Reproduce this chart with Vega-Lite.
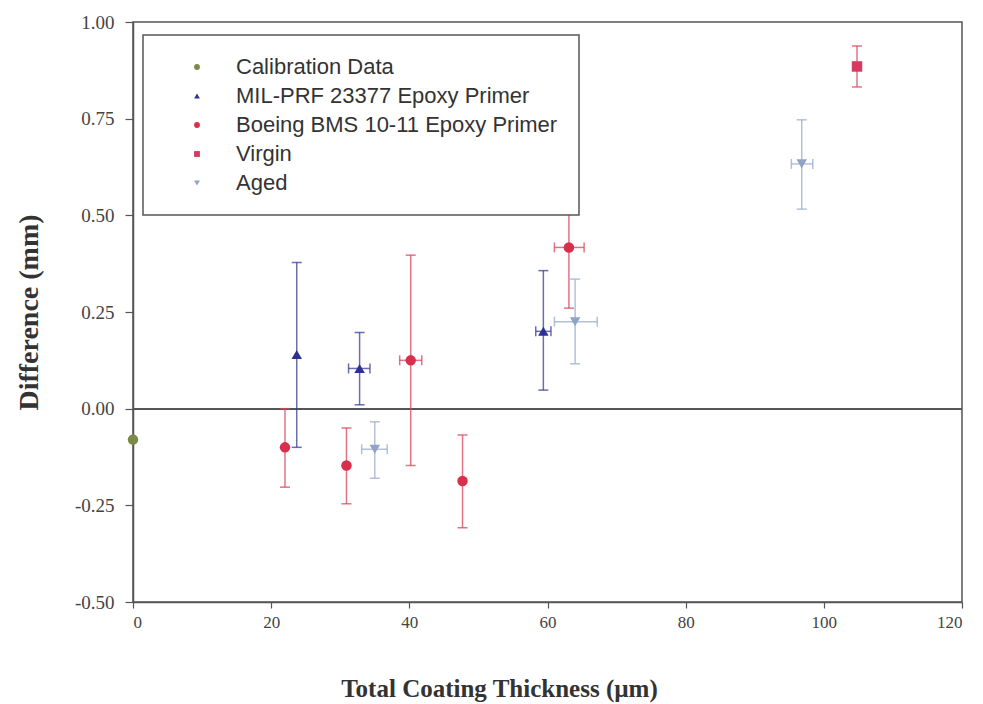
{
  "$schema": "https://vega.github.io/schema/vega-lite/v6.json",
  "width": 829,
  "height": 580,
  "autosize": {"type": "none"},
  "padding": {"left": 133, "top": 22, "right": 21, "bottom": 102},
  "background": "white",
  "config": {
    "view": {"stroke": "#555", "strokeWidth": 1.5},
    "axis": {
      "grid": false,
      "domainColor": "#555",
      "domainWidth": 1.5,
      "tickColor": "#555",
      "tickWidth": 1.2,
      "labelFont": "Liberation Serif",
      "labelColor": "#444",
      "titleFont": "Liberation Serif",
      "titleFontWeight": "bold",
      "titleColor": "#333"
    },
    "legend": {
      "fillColor": "white",
      "strokeColor": "#555",
      "strokeWidth": 1.5,
      "padding": 21,
      "symbolOffset": 22,
      "labelFont": "Liberation Sans",
      "labelFontSize": 22,
      "labelColor": "#333",
      "rowPadding": 7,
      "symbolSize": 34,
      "labelOffset": 28,
      "labelLimit": 500
    }
  },
  "data": {
    "values": [
      {"series": "Calibration Data", "x": 0, "y": -0.08},
      {"series": "MIL-PRF 23377 Epoxy Primer", "x": 23.7, "y": 0.14, "ylo": -0.1, "yhi": 0.378},
      {"series": "MIL-PRF 23377 Epoxy Primer", "x": 32.8, "y": 0.104, "ylo": 0.01, "yhi": 0.197, "xlo": 31.2, "xhi": 34.3},
      {"series": "MIL-PRF 23377 Epoxy Primer", "x": 59.4, "y": 0.2, "ylo": 0.048, "yhi": 0.357, "xlo": 58.3, "xhi": 60.5},
      {"series": "Boeing BMS 10-11 Epoxy Primer", "x": 22.0, "y": -0.1, "ylo": -0.203, "yhi": 0.0},
      {"series": "Boeing BMS 10-11 Epoxy Primer", "x": 30.9, "y": -0.147, "ylo": -0.246, "yhi": -0.05},
      {"series": "Boeing BMS 10-11 Epoxy Primer", "x": 40.2, "y": 0.125, "ylo": -0.147, "yhi": 0.397, "xlo": 38.6, "xhi": 41.8},
      {"series": "Boeing BMS 10-11 Epoxy Primer", "x": 47.7, "y": -0.187, "ylo": -0.308, "yhi": -0.068},
      {"series": "Boeing BMS 10-11 Epoxy Primer", "x": 63.1, "y": 0.417, "ylo": 0.26, "yhi": 0.56, "xlo": 61.0, "xhi": 65.3},
      {"series": "Virgin", "x": 104.8, "y": 0.885, "ylo": 0.832, "yhi": 0.938},
      {"series": "Aged", "x": 35.0, "y": -0.105, "ylo": -0.18, "yhi": -0.034, "xlo": 33.1, "xhi": 36.8},
      {"series": "Aged", "x": 64.0, "y": 0.225, "ylo": 0.116, "yhi": 0.335, "xlo": 61.0, "xhi": 67.2},
      {"series": "Aged", "x": 96.8, "y": 0.633, "ylo": 0.516, "yhi": 0.747, "xlo": 95.3, "xhi": 98.4}
    ]
  },
  "encoding": {
    "x": {
      "field": "x",
      "type": "quantitative",
      "scale": {"domain": [0, 120], "nice": false, "zero": false},
      "axis": {
        "values": [0, 20, 40, 60, 80, 100, 120],
        "title": "Total Coating Thickness (µm)",
        "titleFontSize": 25,
        "titlePadding": 46,
        "titleX": 366,
        "labelFontSize": 17,
        "labelPadding": 6,
        "tickSize": 6
      }
    },
    "y": {
      "field": "y",
      "type": "quantitative",
      "scale": {"domain": [-0.5, 1.0], "nice": false, "zero": false},
      "axis": {
        "values": [-0.5, -0.25, 0, 0.25, 0.5, 0.75, 1.0],
        "format": ".2f",
        "labelExpr": "replace(datum.label, '−', '-')",
        "title": "Difference (mm)",
        "titleFontSize": 28,
        "titleX": -104,
        "titleBaseline": "middle",
        "labelFontSize": 19,
        "labelPadding": 11,
        "tickSize": 8
      }
    }
  },
  "resolve": {
    "scale": {"color": "independent", "shape": "independent"},
    "legend": {"color": "independent", "shape": "independent"}
  },
  "layer": [
    {
      "mark": {"type": "rule", "color": "#555", "strokeWidth": 1.5},
      "encoding": {"y": {"datum": 0}, "x": null}
    },
    {
      "transform": [{"filter": "isValid(datum.ylo)"}],
      "mark": {"type": "rule", "strokeWidth": 1.5, "opacity": 0.75},
      "encoding": {
        "y": {"field": "ylo", "type": "quantitative"},
        "y2": {"field": "yhi"},
        "color": {"field": "series", "type": "nominal", "legend": null,
          "scale": {"domain": ["Calibration Data", "MIL-PRF 23377 Epoxy Primer", "Boeing BMS 10-11 Epoxy Primer", "Virgin", "Aged"],
                    "range": ["#7b8a45", "#3a3c98", "#d8445c", "#d8445c", "#98abcc"]}}
      }
    },
    {
      "transform": [{"filter": "isValid(datum.ylo)"}],
      "mark": {"type": "tick", "orient": "horizontal", "size": 10, "thickness": 1.5, "opacity": 0.75},
      "encoding": {
        "y": {"field": "ylo", "type": "quantitative"},
        "color": {"field": "series", "type": "nominal", "legend": null,
          "scale": {"domain": ["Calibration Data", "MIL-PRF 23377 Epoxy Primer", "Boeing BMS 10-11 Epoxy Primer", "Virgin", "Aged"],
                    "range": ["#7b8a45", "#3a3c98", "#d8445c", "#d8445c", "#98abcc"]}}
      }
    },
    {
      "transform": [{"filter": "isValid(datum.yhi)"}],
      "mark": {"type": "tick", "orient": "horizontal", "size": 10, "thickness": 1.5, "opacity": 0.75},
      "encoding": {
        "y": {"field": "yhi", "type": "quantitative"},
        "color": {"field": "series", "type": "nominal", "legend": null,
          "scale": {"domain": ["Calibration Data", "MIL-PRF 23377 Epoxy Primer", "Boeing BMS 10-11 Epoxy Primer", "Virgin", "Aged"],
                    "range": ["#7b8a45", "#3a3c98", "#d8445c", "#d8445c", "#98abcc"]}}
      }
    },
    {
      "transform": [{"filter": "isValid(datum.xlo)"}],
      "mark": {"type": "rule", "strokeWidth": 1.5, "opacity": 0.75},
      "encoding": {
        "x": {"field": "xlo", "type": "quantitative"},
        "x2": {"field": "xhi"},
        "color": {"field": "series", "type": "nominal", "legend": null,
          "scale": {"domain": ["Calibration Data", "MIL-PRF 23377 Epoxy Primer", "Boeing BMS 10-11 Epoxy Primer", "Virgin", "Aged"],
                    "range": ["#7b8a45", "#3a3c98", "#d8445c", "#d8445c", "#98abcc"]}}
      }
    },
    {
      "transform": [{"filter": "isValid(datum.xlo)"}],
      "mark": {"type": "tick", "orient": "vertical", "size": 10, "thickness": 1.5, "opacity": 0.75},
      "encoding": {
        "x": {"field": "xlo", "type": "quantitative"},
        "color": {"field": "series", "type": "nominal", "legend": null,
          "scale": {"domain": ["Calibration Data", "MIL-PRF 23377 Epoxy Primer", "Boeing BMS 10-11 Epoxy Primer", "Virgin", "Aged"],
                    "range": ["#7b8a45", "#3a3c98", "#d8445c", "#d8445c", "#98abcc"]}}
      }
    },
    {
      "transform": [{"filter": "isValid(datum.xhi)"}],
      "mark": {"type": "tick", "orient": "vertical", "size": 10, "thickness": 1.5, "opacity": 0.75},
      "encoding": {
        "x": {"field": "xhi", "type": "quantitative"},
        "color": {"field": "series", "type": "nominal", "legend": null,
          "scale": {"domain": ["Calibration Data", "MIL-PRF 23377 Epoxy Primer", "Boeing BMS 10-11 Epoxy Primer", "Virgin", "Aged"],
                    "range": ["#7b8a45", "#3a3c98", "#d8445c", "#d8445c", "#98abcc"]}}
      }
    },
    {
      "mark": {"type": "point", "filled": true, "size": 110, "opacity": 1},
      "encoding": {
        "color": {
          "field": "series", "type": "nominal",
          "scale": {"domain": ["Calibration Data", "MIL-PRF 23377 Epoxy Primer", "Boeing BMS 10-11 Epoxy Primer", "Virgin", "Aged"],
                    "range": ["#7b8a45", "#2f3192", "#d8304c", "#d63a60", "#8ea3c6"]},
          "legend": {"title": null, "orient": "none", "legendX": 10, "legendY": 13}
        },
        "shape": {
          "field": "series", "type": "nominal",
          "scale": {"domain": ["Calibration Data", "MIL-PRF 23377 Epoxy Primer", "Boeing BMS 10-11 Epoxy Primer", "Virgin", "Aged"],
                    "range": ["circle", "triangle-up", "circle", "square", "triangle-down"]},
          "legend": {"title": null, "orient": "none", "legendX": 10, "legendY": 13}
        }
      }
    }
  ]
}
